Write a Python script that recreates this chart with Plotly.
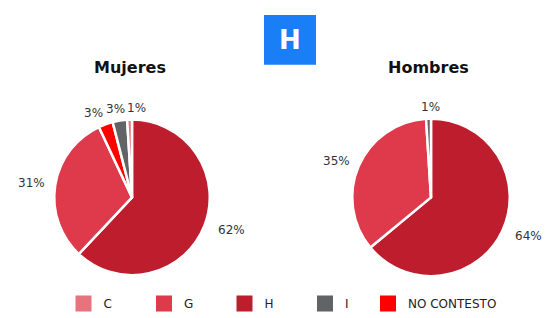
import math
import plotly.graph_objects as go

W, H = 548, 318

# Answer categories and their colours
categories = ["C", "G", "H", "I", "NO CONTESTO"]
colors = {
    "C": "#e8737c",
    "G": "#de3a4b",
    "H": "#be1d2d",
    "I": "#626366",
    "NO CONTESTO": "#ff0000",
}

# Share of each answer (%), listed clockwise from 12 o'clock
mujeres_labels = ["H", "G", "NO CONTESTO", "I", "C"]
mujeres_values = [62, 31, 3, 3, 1]

hombres_labels = ["H", "G", "I"]
hombres_values = [64, 35, 1]

panel_titles = ["Mujeres", "Hombres"]
badge_text = "H"


def px(x, y):
    """pixel (from top-left) -> paper coords"""
    return x / W, 1 - y / H


def domain(cx, cy, r):
    return dict(x=[(cx - r) / W, (cx + r) / W], y=[1 - (cy + r) / H, 1 - (cy - r) / H])


def text_width(s, size=12):
    # rough DejaVu Sans advance widths
    w = 0.0
    for ch in s:
        w += 0.95 if ch == "%" else 0.636
    return w * size


fig = go.Figure()

label_font = dict(family="DejaVu Sans", size=12, color="#333333")

pies = [
    (mujeres_labels, mujeres_values, (132, 198, 78)),
    (hombres_labels, hombres_values, (431, 198, 79)),
]

for labels, values, (cx, cy, r) in pies:
    fig.add_trace(go.Pie(
        labels=labels,
        values=values,
        sort=False,
        direction="clockwise",
        rotation=0,
        marker=dict(colors=[colors[l] for l in labels], line=dict(color="white", width=2.5)),
        textinfo="none",
        domain=domain(cx, cy, r),
        showlegend=False,
        hoverinfo="label+percent",
    ))

    # outside percentage labels, placed at each slice's mid-angle
    total = float(sum(values))
    boxes = []
    cum = 0.0
    for v in values:
        mid = (cum + v / 2) / total * 2 * math.pi
        cum += v
        text = f"{round(100 * v / total)}%"
        w = text_width(text)
        d = r + 12
        x = cx + d * math.sin(mid)
        y = cy - d * math.cos(mid)
        s = math.sin(mid)
        if abs(s) < 0.1:
            left = x - w / 2
        elif s > 0:
            left = x
        else:
            left = x - w
        boxes.append([left, y, w, text])

    # push apart labels that collide along the top of the pie
    top = sorted([b for b in boxes if b[1] < cy - r * 0.8], key=lambda b: b[0])
    for prev, cur in zip(top, top[1:]):
        if cur[0] < prev[0] + prev[2] + 2:
            cur[0] = prev[0] + prev[2] + 2

    for left, y, w, text in boxes:
        ax, ay = px(left, y)
        fig.add_annotation(x=ax, y=ay, xref="paper", yref="paper", text=text,
                           showarrow=False, font=label_font,
                           xanchor="left", yanchor="middle")

# Legend entries in category order; the last one sits in its own legend
for c in categories:
    fig.add_trace(go.Scatter(
        x=[None], y=[None], mode="markers", name=c,
        marker=dict(symbol="square", size=17, color=colors[c], line=dict(width=0)),
        showlegend=True,
        legend="legend2" if c == "NO CONTESTO" else "legend",
    ))

for title, xc in zip(panel_titles, [130, 428]):
    x, y = px(xc, 68)
    fig.add_annotation(
        x=x, y=y, xref="paper", yref="paper", text=f"<b>{title}</b>", showarrow=False,
        font=dict(family="DejaVu Sans", size=16, color="#111111"),
        xanchor="center", yanchor="middle",
    )

# Blue badge at the top
x0, y0 = px(264, 15)
x1, y1 = px(316, 65)
fig.add_shape(type="rect", xref="paper", yref="paper", x0=x0, y0=y1, x1=x1, y1=y0,
              fillcolor="#1a7ef7", line=dict(width=0), layer="below")
bx, by = px(290, 40)
fig.add_annotation(x=bx, y=by, xref="paper", yref="paper", text=f"<b>{badge_text}</b>",
                   showarrow=False,
                   font=dict(family="DejaVu Sans", size=26, color="white"),
                   xanchor="center", yanchor="middle")

legend_font = dict(family="DejaVu Sans", size=12, color="#222222")
lx, ly = px(63.5, 304)
l2x, _ = px(368, 304)
fig.update_layout(
    width=W, height=H,
    margin=dict(l=0, r=0, t=0, b=0),
    paper_bgcolor="white", plot_bgcolor="white",
    xaxis=dict(visible=False), yaxis=dict(visible=False),
    legend=dict(
        orientation="h", x=lx, y=ly, xanchor="left", yanchor="middle",
        font=legend_font, entrywidth=35.5, entrywidthmode="pixels",
    ),
    legend2=dict(
        orientation="h", x=l2x, y=ly, xanchor="left", yanchor="middle",
        font=legend_font,
    ),
)

fig.write_html("out.html")
